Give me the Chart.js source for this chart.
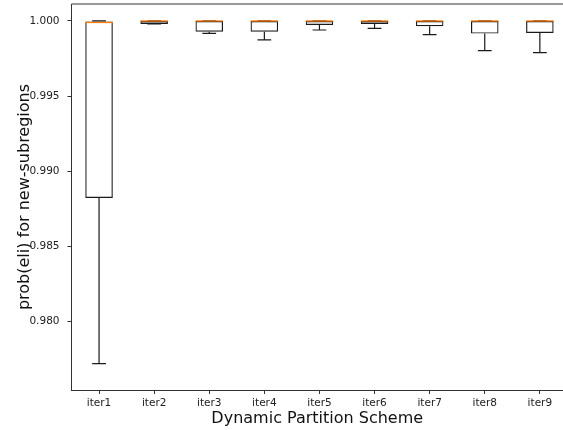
<!DOCTYPE html>
<html>
<head>
<meta charset="utf-8">
<script src="https://cdn.jsdelivr.net/npm/chart.js@4/dist/chart.umd.min.js"></script>
<style>
  html, body { margin: 0; padding: 0; background: #fff; overflow: hidden; }
</style>
</head>
<body>
<canvas id="c" width="563" height="430"></canvas>
<script>
// Box-plot statistics per partition iteration
const categories  = ['iter1', 'iter2', 'iter3', 'iter4', 'iter5', 'iter6', 'iter7', 'iter8', 'iter9'];
const whiskerLow  = [0.97719, 0.99980, 0.99918, 0.99874, 0.99940, 0.99951, 0.99909, 0.99802, 0.99789];
const q1          = [0.98822, 0.99980, 0.99929, 0.99929, 0.99973, 0.99980, 0.99965, 0.99916, 0.99920];
const median      = [0.99990, 1.00000, 1.00000, 1.00000, 1.00000, 1.00000, 1.00000, 1.00000, 1.00000];
const q3          = [0.99996, 1.00000, 1.00000, 1.00000, 1.00000, 1.00000, 1.00000, 1.00000, 1.00000];
const whiskerHigh = [1.00000, 1.00000, 1.00000, 1.00000, 1.00000, 1.00000, 1.00000, 1.00000, 1.00000];
const yTicks      = [0.980, 0.985, 0.990, 0.995, 1.000];

const LINE = '#1a1a1a';
const MEDIAN = '#ff7f0e';
const SPINE = '#333333';
const FONT = '"DejaVu Sans", sans-serif';

// Whiskers, caps, medians and the top spine
const boxExtras = {
  id: 'boxExtras',
  afterDatasetsDraw(chart) {
    const ctx = chart.ctx;
    const y = chart.scales.y;
    const meta = chart.getDatasetMeta(0);
    ctx.save();
    ctx.lineCap = 'butt';
    meta.data.forEach((bar, i) => {
      const x = bar.x;
      const half = bar.width / 2;
      const capHalf = half / 2;
      const yLo = y.getPixelForValue(whiskerLow[i]);
      const yQ1 = y.getPixelForValue(q1[i]);
      const yQ3 = y.getPixelForValue(q3[i]);
      const yHi = y.getPixelForValue(whiskerHigh[i]);
      const yMed = y.getPixelForValue(median[i]);
      ctx.strokeStyle = LINE;
      ctx.lineWidth = 1.2;
      ctx.beginPath();
      ctx.moveTo(x, yQ1); ctx.lineTo(x, yLo);
      ctx.moveTo(x, yQ3); ctx.lineTo(x, yHi);
      ctx.moveTo(x - capHalf, yLo); ctx.lineTo(x + capHalf, yLo);
      ctx.moveTo(x - capHalf, yHi); ctx.lineTo(x + capHalf, yHi);
      ctx.stroke();
      ctx.strokeStyle = MEDIAN;
      ctx.lineWidth = 1.3;
      ctx.beginPath();
      ctx.moveTo(x - half, yMed); ctx.lineTo(x + half, yMed);
      ctx.stroke();
    });
    const a = chart.chartArea;
    ctx.strokeStyle = SPINE;
    ctx.lineWidth = 1;
    ctx.beginPath();
    ctx.moveTo(a.left, a.top); ctx.lineTo(a.right, a.top);
    ctx.stroke();
    ctx.restore();
  }
};

function noPad(scale) {
  scale.paddingTop = 0; scale.paddingBottom = 0;
  scale.paddingLeft = 0; scale.paddingRight = 0;
}

new Chart(document.getElementById('c'), {
  type: 'bar',
  data: {
    datasets: [{
      data: categories.map((c, i) => ({ x: i + 1, y: [q1[i], q3[i]] })),
      backgroundColor: 'rgba(0,0,0,0)',
      borderColor: LINE,
      borderWidth: 1.2,
      borderSkipped: false,
      barPercentage: 0.5,
      categoryPercentage: 1.0
    }]
  },
  options: {
    responsive: false,
    animation: false,
    devicePixelRatio: 1,
    layout: { padding: { top: 4, right: 0, left: 0, bottom: 0 } },
    plugins: { legend: { display: false }, tooltip: { enabled: false } },
    scales: {
      x: {
        type: 'linear',
        min: 0.5,
        max: 9.42,
        offset: false,
        afterBuildTicks(scale) { scale.ticks = categories.map((c, i) => ({ value: i + 1 })); },
        grid: { offset: false, drawOnChartArea: false, drawTicks: true, tickLength: 4, color: SPINE },
        border: { display: true, color: SPINE, width: 1 },
        ticks: { color: '#222', font: { family: FONT, size: 10.5 }, padding: 3, maxRotation: 0,
                 callback: v => categories[Math.round(v) - 1] },
        title: { display: true, text: 'Dynamic Partition Scheme', color: '#111',
                 font: { family: FONT, size: 16 }, padding: { top: 0, bottom: 2 } },
        afterFit(scale) { scale.height = 40; noPad(scale); }
      },
      y: {
        min: 0.97543,
        max: 1.00113,
        afterBuildTicks(scale) { scale.ticks = yTicks.map(v => ({ value: v })); },
        grid: { drawOnChartArea: false, drawTicks: true, tickLength: 4, color: SPINE },
        border: { display: true, color: SPINE, width: 1 },
        ticks: { color: '#222', font: { family: FONT, size: 10.5 }, padding: 8,
                 callback: v => Number(v).toFixed(3) },
        title: { display: true, text: 'prob(eli) for new-subregions', color: '#111',
                 font: { family: FONT, size: 16 }, padding: { top: 15, bottom: 0 } },
        afterFit(scale) { scale.width = 71.5; noPad(scale); }
      }
    }
  },
  plugins: [boxExtras]
});
</script>
</body>
</html>
